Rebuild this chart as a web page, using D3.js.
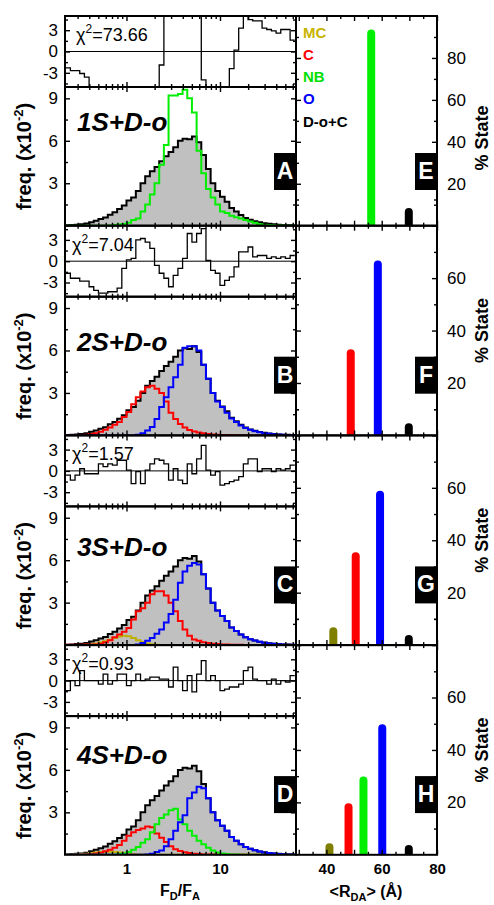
<!DOCTYPE html>
<html>
<head>
<meta charset="UTF-8">
<script src="https://d3js.org/d3.v7.min.js"></script>
<style>
  body { margin: 0; background: #fff; }
  svg { display: block; font-family: "Liberation Sans", Arial, sans-serif; }
</style>
</head>
<body>
<div id="chart"></div>
<script>
// log10 bins of the FD/FA histograms
const binLo = -0.65, binStep = 0.05, nBins = 49;

// measured histogram (same data in every row), freq x10^-2
const dataHist = [0.03,0.05,0.07,0.1,0.15,0.25,0.35,0.47,0.58,0.78,0.95,1.18,1.42,1.78,2.0,2.45,3.0,3.5,3.85,4.15,4.55,4.9,5.2,5.55,6.0,6.15,6.1,6.3,5.9,5.0,4.0,3.0,2.45,2.05,1.7,1.25,1.0,0.75,0.55,0.42,0.32,0.24,0.18,0.13,0.1,0.07,0.05,0.04,0.03];

// model components
const histA_NB = [0,0,0,0,0,0,0,0,0,0.02,0.05,0.08,0.12,0.2,0.4,0.5,1.0,1.5,2.2,3.0,4.3,5.7,9.2,9.2,9.3,9.6,9.0,8.0,5.3,3.7,2.6,2.0,1.5,1.0,0.9,0.7,0.6,0.5,0.4,0.3,0.2,0.1,0.07,0.05,0.03,0.02,0.01,0,0];
const histB_C = [0.02,0.02,0.02,0.03,0.05,0.1,0.15,0.25,0.4,0.55,0.75,0.95,1.3,1.65,2.2,2.7,3.1,3.4,3.5,3.3,3.0,2.4,1.6,1.15,0.8,0.55,0.38,0.28,0.2,0.15,0.1,0.07,0.05,0.03,0.02,0.02,0.01,0.01,0,0,0,0,0,0,0,0,0,0,0];
const histB_O = [0,0,0,0,0,0,0,0,0,0,0,0,0,0,0,0.05,0.15,0.35,0.6,1.15,2.0,2.7,3.4,4.1,5.0,6.2,6.3,6.3,6.0,5.0,4.0,3.0,2.4,2.0,1.6,1.2,0.95,0.7,0.52,0.4,0.3,0.22,0.16,0.12,0.09,0.06,0.04,0.03,0.02];
const histC_MC = [0,0,0,0,0.02,0.05,0.1,0.18,0.28,0.38,0.5,0.6,0.66,0.62,0.5,0.35,0.22,0.12,0.06,0.03,0,0,0,0,0,0,0,0,0,0,0,0,0,0,0,0,0,0,0,0,0,0,0,0,0,0,0,0,0];
const histC_C = [0.02,0.02,0.03,0.03,0.04,0.04,0.05,0.1,0.2,0.35,0.55,0.75,0.95,1.2,1.8,2.4,2.6,3.0,3.6,3.8,3.8,3.5,3.0,2.4,1.7,1.1,0.66,0.4,0.3,0.2,0.15,0.1,0.07,0.05,0.04,0.03,0.02,0.02,0.01,0.01,0,0,0,0,0,0,0,0,0];
const histC_O = [0,0,0,0,0,0,0,0,0,0,0,0,0,0,0,0.05,0.15,0.3,0.5,0.8,1.1,1.6,2.2,3.2,4.4,5.2,5.6,5.8,5.7,5.0,4.0,3.0,2.45,2.05,1.7,1.25,1.0,0.75,0.55,0.42,0.32,0.24,0.17,0.12,0.09,0.06,0.04,0.03,0.02];
const histD_MC = [0,0,0.03,0.05,0.08,0.12,0.17,0.2,0.22,0.22,0.2,0.16,0.12,0.08,0.05,0.03,0,0,0,0,0,0,0,0,0,0,0,0,0,0,0,0,0,0,0,0,0,0,0,0,0,0,0,0,0,0,0,0,0];
const histD_C = [0.01,0.01,0.02,0.03,0.04,0.05,0.1,0.15,0.25,0.35,0.5,0.7,1.0,1.35,1.6,1.75,1.85,2.0,1.95,1.5,1.2,0.9,0.6,0.4,0.27,0.18,0.12,0.08,0.05,0.03,0.02,0.02,0.01,0.01,0,0,0,0,0,0,0,0,0,0,0,0,0,0,0];
const histD_NB = [0,0,0,0,0,0,0,0,0,0,0,0.05,0.1,0.2,0.35,0.55,0.85,1.1,1.6,2.15,2.6,2.85,3.15,3.25,2.5,2.15,1.7,1.35,1.0,0.75,0.5,0.3,0.17,0.1,0.06,0.03,0.02,0.01,0,0,0,0,0,0,0,0,0,0,0];
const histD_O = [0,0,0,0,0,0,0,0,0,0,0,0,0,0,0,0,0,0.03,0.08,0.2,0.3,0.6,1.1,1.7,2.3,2.8,4.0,4.4,4.8,4.7,4.0,3.0,2.45,2.05,1.7,1.25,1.0,0.75,0.55,0.42,0.32,0.24,0.17,0.12,0.09,0.06,0.04,0.03,0.02];

// weighted residuals (values past +-5 run off the panel)
const resA = [-2.3,-2.7,-2.7,-3.1,-3.6,-8,-8,-8,-8,-8,-8,-8,-8,-8,-8,-8,-8,-8,-8,-8,-1.9,8,8,8,8,8,8,8,8,-4,-8,-8,-8,-8,-8,-2.4,0.2,3.3,5.5,4.5,4.3,4.3,3.3,3.1,2.9,2.6,3.1,3.1,1.6];
const resB = [-1.7,-2.4,-2.4,-2.8,-2.8,-3.6,-4.1,-4.5,-4.5,-4.3,-4.3,-3.8,-1.0,0.2,0.4,3.0,3.2,2.7,1.8,-0.6,-1.7,-2.4,-3.6,-2.0,-1.0,0.4,3.9,2.7,3.9,4.6,0.1,-1.3,-1.7,-3.4,-2.7,-2.2,-0.8,1.3,1.3,2.0,0.6,0.8,0.8,0.4,0.6,0.4,0.6,0.4,0.8];
const resC = [-0.6,-1.3,-0.6,0.3,-0.4,-0.4,-0.4,1.0,0.6,1.0,0.8,1.5,1.5,0.1,-1.8,-0.1,-1.8,0.1,1.0,1.7,1.5,1.0,-1.3,0.3,-1.3,-1.8,1.0,-0.4,1.7,3.6,0.1,-0.6,-0.1,-2.0,-1.8,-1.5,-1.3,-0.8,1.0,1.7,1.7,-0.1,0.3,0.3,-0.1,0.3,0.1,0.3,0.8];
const resD = [-1.4,0,-0.7,1.4,0,0,0,-0.5,0.9,-0.5,0,0.9,0.9,-0.7,0,0.9,0,0.2,0.5,0.5,0.2,0.2,-0.9,1.9,0,-1.4,0.7,-1.6,0.9,2.8,0,0.7,0,-1.4,-1.2,-0.9,-0.9,-0.5,1.4,1.9,0.2,0,0,-0.5,0.2,-0.5,0,-0.2,0.7];

const chi2 = ["73.66", "7.04", "1.57", "0.93"];
const models = ["1S+D-o", "2S+D-o", "3S+D-o", "4S+D-o"];
const leftLetters = ["A", "B", "C", "D"];
const rightLetters = ["E", "F", "G", "H"];

// state populations: [state, <R_DA> (A), % state]
const barsE = [["NB", 56.2, 91.7], ["D-o+C", 69.8, 6.5]];
const barsF = [["C", 48.8, 31.3], ["O", 58.6, 65.2], ["D-o+C", 69.8, 3.1]];
const barsG = [["MC", 42.5, 5.3], ["C", 50.6, 33.9], ["O", 59.4, 57.4], ["D-o+C", 69.8, 2.3]];
const barsH = [["MC", 41.1, 2.9], ["C", 48.0, 18.1], ["NB", 53.4, 28.3], ["O", 60.2, 48.3], ["D-o+C", 69.8, 2.2]];
const pctMax = [100, 80, 80, 80];
const pctLabels = [[20, 40, 60, 80], [20, 40, 60], [20, 40, 60], [20, 40, 60]];
const states = ["MC", "C", "NB", "O", "D-o+C"];

const rows = [
  { res: resA, comps: [["NB", histA_NB]], bars: barsE },
  { res: resB, comps: [["C", histB_C], ["O", histB_O]], bars: barsF },
  { res: resC, comps: [["MC", histC_MC], ["C", histC_C], ["O", histC_O]], bars: barsG },
  { res: resD, comps: [["MC", histD_MC], ["C", histD_C], ["NB", histD_NB], ["O", histD_O]], bars: barsH }
];

const lineColor = { MC: "#bdb000", C: "#ff0000", NB: "#00ee00", O: "#0000ff" };
const barColor = { MC: "#808000", C: "#ff0000", NB: "#00ee00", O: "#0000ff", "D-o+C": "#000" };
const legendColor = { MC: "#c8b400", C: "#ff0000", NB: "#00e000", O: "#0000ff", "D-o+C": "#000" };

// layout
const X0 = 65, X1 = 296, X2 = 437, TOP = 16, BLOCK = 209.7, RES_H = 71;
const titleOff = [115, 125, 121, 119];
const chiX = [76, 72, 72, 72];
const boxOff = [137, 131, 131, 131];

const svg = d3.select('#chart').append('svg').attr('width', 494).attr('height', 905);
const defs = svg.append('defs');

const x = d3.scaleLog().domain([0.22, 65]).range([X0, X1]);
const xr = d3.scaleLinear().domain([29, 80]).range([X1, X2]);
const edges = d3.range(nBins + 1).map(i => Math.pow(10, binLo + i * binStep));
const steps = vals => vals.map((v, i) => [edges[i], v]).concat([[edges[vals.length], vals[vals.length - 1]]]);

const xMaj = [1, 10];
const xMin = [0.3, 0.4, 0.5, 0.6, 0.7, 0.8, 0.9, 2, 3, 4, 5, 6, 7, 8, 9, 20, 30, 40, 50, 60];

function ticks(g, axis, vals, len) {
  g.call(axis.tickValues(vals).tickSize(len).tickFormat(''))
    .call(a => a.select('.domain').remove())
    .selectAll('line').attr('stroke-width', 1.4);
}

// inward ticks on all four sides of a panel
function frameTicks(xs, xa, xb, ys, ya, yb, left, right, top, bot) {
  [[d3.axisBottom, top], [d3.axisTop, bot]].forEach(([ax, yy]) => {
    ticks(svg.append('g').attr('transform', `translate(0,${yy})`), ax(xs), xa, 5);
    ticks(svg.append('g').attr('transform', `translate(0,${yy})`), ax(xs), xb, 3);
  });
  [[d3.axisRight, left], [d3.axisLeft, right]].forEach(([ax, xx]) => {
    ticks(svg.append('g').attr('transform', `translate(${xx},0)`), ax(ys), ya, 5);
    ticks(svg.append('g').attr('transform', `translate(${xx},0)`), ax(ys), yb, 3);
  });
}

function clip(id, x0, y0, w, h) {
  defs.append('clipPath').attr('id', id).append('rect')
    .attr('x', x0).attr('y', y0).attr('width', w).attr('height', h);
  return `url(#${id})`;
}

function labelAxis(g, axis, vals, pad, size, weight) {
  g.call(axis.tickValues(vals).tickSize(0).tickPadding(pad).tickFormat(d => String(d)))
    .call(a => a.select('.domain').remove())
    .selectAll('text')
    .attr('font-family', '"Liberation Sans", Arial, sans-serif')
    .attr('font-size', size).attr('font-weight', weight).attr('fill', '#000');
}

rows.forEach((row, i) => {
  const s = TOP + i * BLOCK, rBot = s + RES_H, hBot = s + BLOCK;
  const yRes = d3.scaleLinear().domain([-5, 5]).range([rBot, s]);
  const yHist = d3.scaleLinear().domain([0, 9.8]).range([hBot, rBot]);
  const yPct = d3.scaleLinear().domain([0, pctMax[i]]).range([hBot, s]);

  // residual panel
  const cRes = clip('cres' + i, X0, s, X1 - X0, RES_H);
  svg.append('line').attr('x1', X0).attr('x2', X1).attr('y1', yRes(0)).attr('y2', yRes(0))
    .attr('stroke', '#000').attr('stroke-width', 1);
  svg.append('path').datum(steps(row.res)).attr('clip-path', cRes)
    .attr('d', d3.line().x(d => x(d[0])).y(d => yRes(d[1])).curve(d3.curveStepAfter))
    .attr('fill', 'none').attr('stroke', '#000').attr('stroke-width', 1.3);
  const chi = svg.append('text').attr('x', chiX[i]).attr('y', s + 25).attr('font-size', 18);
  chi.append('tspan').text('χ');
  chi.append('tspan').attr('dy', -8).attr('font-size', 12).text('2');
  chi.append('tspan').attr('dy', 8).text('=' + chi2[i]);

  // histogram panel
  const cHist = clip('chist' + i, X0, rBot, X1 - X0, BLOCK - RES_H);
  const hg = svg.append('g').attr('clip-path', cHist);
  hg.append('path').datum(steps(dataHist))
    .attr('d', d3.area().x(d => x(d[0])).y0(yHist(0)).y1(d => yHist(d[1])).curve(d3.curveStepAfter))
    .attr('fill', '#c0c0c0');
  const histLine = d3.line().x(d => x(d[0])).y(d => yHist(d[1])).curve(d3.curveStepAfter);
  hg.append('path').datum(steps(dataHist)).attr('d', histLine)
    .attr('fill', 'none').attr('stroke', '#000').attr('stroke-width', 2);
  row.comps.forEach(([st, vals]) => {
    hg.append('path').datum(steps(vals)).attr('d', histLine)
      .attr('fill', 'none').attr('stroke', lineColor[st]).attr('stroke-width', 2);
  });
  svg.append('text').attr('x', 77).attr('y', s + titleOff[i])
    .attr('font-size', 26).attr('font-weight', 'bold').attr('font-style', 'italic')
    .text(models[i]);

  // state bars
  const cPct = clip('cpct' + i, X1, s, X2 - X1, BLOCK);
  svg.append('g').attr('clip-path', cPct).selectAll('line').data(row.bars).join('line')
    .attr('x1', d => xr(d[1])).attr('x2', d => xr(d[1]))
    .attr('y1', yPct(0) + 6).attr('y2', d => yPct(d[2]))
    .attr('stroke', d => barColor[d[0]]).attr('stroke-width', 8).attr('stroke-linecap', 'round');

  // frames + ticks
  frameTicks(x, xMaj, xMin, yRes, [-3, 0, 3], [-4.5, -1.5, 1.5, 4.5], X0, X1, s, rBot);
  frameTicks(x, xMaj, xMin, yHist, [3, 6, 9], [1.5, 4.5, 7.5], X0, X1, rBot, hBot);
  frameTicks(xr, [30, 40, 50, 60, 70, 80], [35, 45, 55, 65, 75], yPct,
    [20, 40, 60, 80], [10, 30, 50, 70, 90], X1, X2, s, hBot);
  [[X0, s, X1 - X0, RES_H], [X0, rBot, X1 - X0, BLOCK - RES_H], [X1, s, X2 - X1, BLOCK]].forEach(r => {
    svg.append('rect').attr('x', r[0]).attr('y', r[1]).attr('width', r[2]).attr('height', r[3])
      .attr('fill', 'none').attr('stroke', '#000').attr('stroke-width', 2);
  });

  // tick labels
  labelAxis(svg.append('g').attr('transform', `translate(${X0},0)`), d3.axisLeft(yRes), [-3, 0, 3], 7, 17, 'normal');
  labelAxis(svg.append('g').attr('transform', `translate(${X0},0)`), d3.axisLeft(yHist), [3, 6, 9], 7, 17, 'normal');
  labelAxis(svg.append('g').attr('transform', `translate(${X2},0)`), d3.axisRight(yPct), pctLabels[i], 10, 17, 'normal');

  // panel letters
  [[X1, leftLetters[i]], [X2, rightLetters[i]]].forEach(([xe, L]) => {
    svg.append('rect').attr('x', xe - 22).attr('y', s + boxOff[i]).attr('width', 22).attr('height', 37).attr('fill', '#000');
    svg.append('text').attr('x', xe - 11).attr('y', s + boxOff[i] + 26).attr('text-anchor', 'middle')
      .attr('fill', '#fff').attr('font-size', 23).attr('font-weight', 'bold').text(L);
  });

  // y titles
  const fq = svg.append('text').attr('transform', `translate(31,${s + RES_H + (BLOCK - RES_H) / 2}) rotate(-90)`)
    .attr('text-anchor', 'middle').attr('font-size', 20).attr('font-weight', 'bold');
  fq.append('tspan').text('freq. (x10');
  fq.append('tspan').attr('dy', -8).attr('font-size', 13).text('-2');
  fq.append('tspan').attr('dy', 8).text(')');
  svg.append('text').attr('transform', `translate(488,${i === 0 ? s + 122 : s + BLOCK / 2}) rotate(-90)`)
    .attr('text-anchor', 'middle').attr('font-size', 18).attr('font-weight', 'bold').text('% State');
});

// legend
svg.append('g').selectAll('text').data(states).join('text')
  .attr('x', 303).attr('y', (d, i) => 37.5 + i * 22.3)
  .attr('font-size', 15).attr('font-weight', 'bold').attr('fill', d => legendColor[d]).text(d => d);

// bottom axes
const yEnd = TOP + 4 * BLOCK;
labelAxis(svg.append('g').attr('transform', `translate(0,${yEnd})`), d3.axisBottom(x), xMaj, 9, 15, 'bold');
labelAxis(svg.append('g').attr('transform', `translate(0,${yEnd})`), d3.axisBottom(xr), [40, 60, 80], 9, 15, 'bold');

const xt = svg.append('text').attr('x', 180).attr('y', 896).attr('text-anchor', 'middle')
  .attr('font-size', 16).attr('font-weight', 'bold');
xt.append('tspan').text('F');
xt.append('tspan').attr('dy', 4).attr('font-size', 11).text('D');
xt.append('tspan').attr('dy', -4).text('/F');
xt.append('tspan').attr('dy', 4).attr('font-size', 11).text('A');

const rt = svg.append('text').attr('x', 366).attr('y', 897).attr('text-anchor', 'middle')
  .attr('font-size', 16).attr('font-weight', 'bold');
rt.append('tspan').text('<R');
rt.append('tspan').attr('dy', 4).attr('font-size', 11).text('DA');
rt.append('tspan').attr('dy', -4).text('> (Å)');
</script>
</body>
</html>
